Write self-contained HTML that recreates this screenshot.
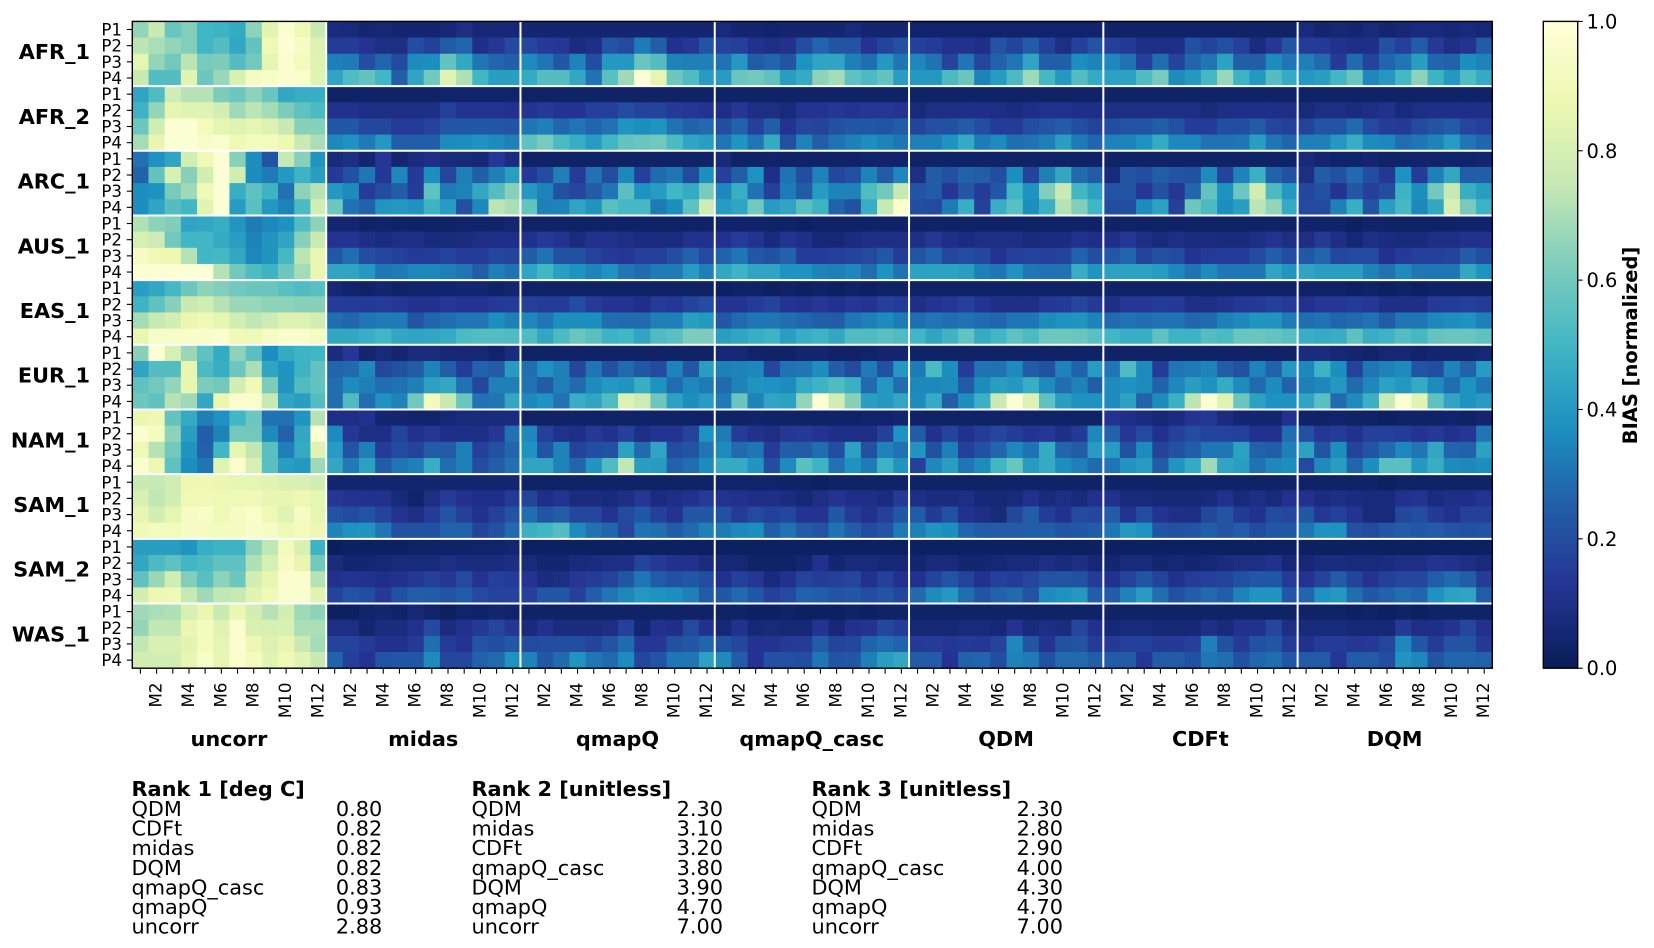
<!DOCTYPE html>
<html lang="en">
<head>
<meta charset="utf-8">
<title>BIAS heatmap</title>
<style>
html,body{margin:0;padding:0;background:#fff;width:1654px;height:948px;overflow:hidden}
svg{display:block;position:absolute;left:0;top:0}
text{font-family:"DejaVu Sans","Liberation Sans",sans-serif;fill:#000}
.b{font-weight:700}
.rk{font-size:20.83px}
</style>
</head>
<body>
<svg id="chart" xmlns="http://www.w3.org/2000/svg" width="1654" height="948" viewBox="0 0 1654 948">
<defs>
<linearGradient id="ylgnbu" x1="0" y1="1" x2="0" y2="0">
<stop offset="0" stop-color="#081d58"/><stop offset="0.125" stop-color="#253494"/><stop offset="0.25" stop-color="#225ea8"/><stop offset="0.375" stop-color="#1d91c0"/><stop offset="0.5" stop-color="#41b6c4"/><stop offset="0.625" stop-color="#7fcdbb"/><stop offset="0.75" stop-color="#c7e9b4"/><stop offset="0.875" stop-color="#edf8b1"/><stop offset="1" stop-color="#ffffd9"/>
</linearGradient>
</defs>
<g id="cells"></g>
<g id="grid"></g>
<g id="xaxis"></g>
<g id="yaxis"></g>
<g id="regionlabels"></g>
<g id="methodlabels"></g>
<rect x="132.3" y="21.4" width="1360" height="646.8" fill="none" stroke="#000" stroke-width="1.4"/>

<g>
<rect x="1543.3" y="21.4" width="34.4" height="646.8" fill="url(#ylgnbu)" stroke="#000" stroke-width="1.4"/>
<g id="cbticks"></g>
<text class="b" font-size="19.44" text-anchor="middle" transform="translate(1637,345.5) rotate(-90)">BIAS [normalized]</text>
</g>

<g>
<text class="rk b" x="131.5" y="796">Rank 1 [deg C]</text>
<text class="rk" x="131.5" y="816">QDM</text><text class="rk" x="382.3" y="816" text-anchor="end">0.80</text>
<text class="rk" x="131.5" y="835.5">CDFt</text><text class="rk" x="382.3" y="835.5" text-anchor="end">0.82</text>
<text class="rk" x="131.5" y="855">midas</text><text class="rk" x="382.3" y="855" text-anchor="end">0.82</text>
<text class="rk" x="131.5" y="875">DQM</text><text class="rk" x="382.3" y="875" text-anchor="end">0.82</text>
<text class="rk" x="131.5" y="894.5">qmapQ_casc</text><text class="rk" x="382.3" y="894.5" text-anchor="end">0.83</text>
<text class="rk" x="131.5" y="914">qmapQ</text><text class="rk" x="382.3" y="914" text-anchor="end">0.93</text>
<text class="rk" x="131.5" y="933.5">uncorr</text><text class="rk" x="382.3" y="933.5" text-anchor="end">2.88</text>
</g>
<g>
<text class="rk b" x="471.5" y="796">Rank 2 [unitless]</text>
<text class="rk" x="471.5" y="816">QDM</text><text class="rk" x="723" y="816" text-anchor="end">2.30</text>
<text class="rk" x="471.5" y="835.5">midas</text><text class="rk" x="723" y="835.5" text-anchor="end">3.10</text>
<text class="rk" x="471.5" y="855">CDFt</text><text class="rk" x="723" y="855" text-anchor="end">3.20</text>
<text class="rk" x="471.5" y="875">qmapQ_casc</text><text class="rk" x="723" y="875" text-anchor="end">3.80</text>
<text class="rk" x="471.5" y="894.5">DQM</text><text class="rk" x="723" y="894.5" text-anchor="end">3.90</text>
<text class="rk" x="471.5" y="914">qmapQ</text><text class="rk" x="723" y="914" text-anchor="end">4.70</text>
<text class="rk" x="471.5" y="933.5">uncorr</text><text class="rk" x="723" y="933.5" text-anchor="end">7.00</text>
</g>
<g>
<text class="rk b" x="811.5" y="796">Rank 3 [unitless]</text>
<text class="rk" x="811.5" y="816">QDM</text><text class="rk" x="1063" y="816" text-anchor="end">2.30</text>
<text class="rk" x="811.5" y="835.5">midas</text><text class="rk" x="1063" y="835.5" text-anchor="end">2.80</text>
<text class="rk" x="811.5" y="855">CDFt</text><text class="rk" x="1063" y="855" text-anchor="end">2.90</text>
<text class="rk" x="811.5" y="875">qmapQ_casc</text><text class="rk" x="1063" y="875" text-anchor="end">4.00</text>
<text class="rk" x="811.5" y="894.5">DQM</text><text class="rk" x="1063" y="894.5" text-anchor="end">4.30</text>
<text class="rk" x="811.5" y="914">qmapQ</text><text class="rk" x="1063" y="914" text-anchor="end">4.70</text>
<text class="rk" x="811.5" y="933.5">uncorr</text><text class="rk" x="1063" y="933.5" text-anchor="end">7.00</text>
</g>
</svg>
<script>
// Normalized BIAS, in hundredths (0-100). Rows: region x period, columns: M1..M12.
const regions=["AFR_1","AFR_2","ARC_1","AUS_1","EAS_1","EUR_1","NAM_1","SAM_1","SAM_2","WAS_1"];
const periods=["P1","P2","P3","P4"];
const months=["M1","M2","M3","M4","M5","M6","M7","M8","M9","M10","M11","M12"];
const methods=["uncorr","midas","qmapQ","qmapQ_casc","QDM","CDFt","DQM"];
const colorbarTicks=[0,0.2,0.4,0.6,0.8,1];
const uncorr=[
[66,76,58,63,50,49,46,65,84,97,89,76],[73,70,66,63,50,54,45,57,89,98,94,82],[85,66,60,73,61,62,54,60,85,97,91,83],[76,54,54,84,59,67,81,93,95,97,96,83],
[44,53,78,72,72,62,59,65,58,45,47,47],[49,66,85,83,83,79,68,73,69,62,56,52],[59,78,98,98,91,85,83,85,82,76,64,64],[69,86,98,98,95,97,89,92,91,88,76,70],
[30,38,44,79,89,98,64,37,22,75,64,39],[26,57,81,64,79,98,78,36,32,40,49,42],[37,38,61,68,90,98,47,56,49,30,65,72],[37,44,54,50,84,98,41,55,40,34,52,79],
[71,65,63,44,45,47,39,32,35,38,53,65],[80,77,60,50,50,46,42,34,39,44,64,76],[93,89,88,72,50,51,45,35,39,51,73,87],[98,98,98,98,98,72,60,53,49,59,69,87],
[42,45,51,59,65,63,60,58,58,55,53,55],[49,56,64,76,78,72,67,67,65,65,64,64],[69,75,79,87,89,85,79,74,77,82,82,78],[87,94,95,95,95,97,90,89,93,96,96,93],
[64,98,80,67,56,46,65,55,37,46,49,50],[44,54,54,86,52,47,59,70,44,39,49,57],[56,60,66,86,62,60,79,90,62,39,53,57],[59,56,72,68,45,87,96,96,75,44,42,54],
[87,88,57,46,33,38,50,59,30,30,39,72],[97,92,65,42,25,34,60,60,36,26,45,98],[89,72,60,39,26,50,85,74,55,33,46,83],[97,88,56,37,31,83,96,80,55,42,40,68],
[76,75,78,88,88,87,86,85,84,81,81,78],[81,74,78,89,90,89,89,90,86,86,88,85],[86,79,85,93,95,89,93,96,89,83,93,85],[90,91,91,94,93,92,92,95,94,89,91,88],
[42,42,42,39,47,49,49,65,74,91,81,49],[45,52,56,50,52,56,56,71,80,93,86,60],[56,67,78,63,55,65,59,79,86,97,97,72],[79,88,89,75,68,74,75,84,90,96,96,84],
[68,70,71,80,87,76,87,79,72,79,68,65],[66,74,74,87,92,83,97,81,80,81,70,70],[74,81,81,84,91,85,97,88,82,86,76,69],[79,79,79,86,95,86,97,92,84,89,84,76]
];
const midas=[
[8,7,5,6,5,5,5,6,9,6,6,6],[15,15,12,9,9,20,16,24,27,10,13,19],[33,32,20,27,19,36,37,57,45,31,27,25],[44,53,57,50,25,44,60,83,71,50,42,42],
[3,3,3,3,3,3,3,4,4,4,4,4],[11,11,9,9,9,9,10,16,12,12,12,11],[23,23,18,18,15,15,17,23,23,23,23,22],[35,38,32,40,25,25,25,36,37,38,36,33],
[7,9,5,13,5,8,10,7,7,6,13,8],[14,21,31,13,35,14,37,18,33,25,33,42],[40,36,15,20,25,15,56,32,34,45,54,64],[59,30,26,39,40,38,49,41,21,35,73,70],
[5,5,3,4,3,3,3,3,4,4,4,5],[12,12,10,8,9,10,7,7,8,9,10,10],[23,29,20,18,16,14,15,17,15,15,18,17],[44,44,40,31,32,35,35,33,31,25,33,30],
[6,4,3,5,3,4,4,4,5,5,3,5],[15,15,14,15,13,11,11,13,12,12,14,15],[29,27,31,32,32,22,27,29,31,31,37,33],[45,45,47,50,45,44,45,46,52,54,54,53],
[8,13,5,7,5,8,8,6,6,6,4,8],[27,28,35,18,21,24,34,25,15,26,24,41],[29,36,33,29,30,33,43,45,30,18,33,33],[29,53,29,38,34,60,91,76,58,30,31,45],
[9,9,11,5,5,4,4,6,7,7,7,8],[36,13,9,9,17,11,13,10,10,9,13,30],[41,22,33,15,19,17,24,24,33,16,21,27],[45,32,43,24,31,33,47,29,33,20,25,30],
[5,5,5,5,5,5,5,5,5,5,5,5],[13,12,11,11,7,4,9,15,11,10,10,14],[22,19,22,17,12,9,15,22,16,11,16,22],[34,38,39,31,21,21,21,26,26,17,21,28],
[1,2,2,2,2,3,3,3,3,4,4,5],[8,5,5,6,7,7,7,9,8,8,8,9],[11,12,11,10,11,13,16,13,19,12,16,15],[17,22,20,14,21,25,24,22,24,19,17,17],
[2,2,4,5,3,6,4,2,4,3,5,4],[9,9,5,8,8,11,19,8,11,14,18,13],[17,17,14,11,11,14,29,15,12,22,20,23],[26,16,12,22,23,23,36,18,18,26,28,38]
];
const qmapQ=[
[5,5,5,5,5,5,5,5,5,5,5,5],[18,14,13,8,10,22,19,32,25,11,13,22],[36,31,23,34,20,40,40,58,54,34,33,33],[46,54,54,45,30,55,68,98,85,59,53,41],
[3,3,3,3,3,3,3,3,3,3,3,3],[12,14,12,12,16,16,20,17,17,14,13,12],[31,33,27,31,27,30,39,37,39,30,26,28],[56,61,52,47,41,50,57,58,60,52,44,42],
[3,3,3,3,3,3,3,3,3,3,3,3],[14,20,33,15,30,20,35,16,28,31,19,37],[40,34,21,18,24,31,55,38,41,50,46,61],[57,33,34,44,39,55,51,51,32,37,56,77],
[3,3,3,3,3,3,3,3,3,3,3,3],[11,14,12,8,11,11,9,8,8,8,11,11],[24,30,21,21,17,14,13,16,16,20,26,19],[44,50,42,38,34,38,31,28,32,32,41,33],
[3,3,3,3,3,3,3,3,3,3,3,3],[16,15,15,20,15,12,12,10,15,13,17,20],[35,31,37,37,37,29,28,28,33,33,42,40],[53,45,52,58,55,49,50,44,53,55,62,62],
[3,3,3,3,3,3,3,3,3,3,3,3],[29,38,33,18,31,21,28,23,19,34,23,42],[30,24,33,28,36,40,39,47,38,29,35,32],[35,38,30,47,44,53,82,77,59,43,37,41],
[3,3,3,3,3,3,3,3,3,3,3,3],[35,16,11,10,14,11,16,10,12,12,17,38],[38,22,34,17,20,21,43,28,44,20,22,31],[44,44,34,27,39,53,74,42,41,26,29,36],
[3,3,3,3,3,3,3,3,3,3,3,3],[17,10,12,8,8,7,9,13,8,10,11,15],[29,22,25,18,18,12,19,23,16,12,23,23],[48,50,54,36,30,27,18,30,29,24,28,33],
[2,2,2,2,2,2,2,2,2,2,2,2],[7,5,5,7,8,9,10,17,14,11,11,8],[12,8,9,13,15,17,23,31,24,21,23,20],[16,23,23,16,25,31,35,40,38,37,33,24],
[3,3,3,3,3,3,3,3,3,3,3,3],[7,11,8,8,8,9,16,5,11,10,19,11],[19,20,20,20,17,22,28,13,13,21,23,27],[34,23,28,39,31,28,36,18,22,31,31,43]
];
const qmapQ_casc=[
[7,5,5,4,5,5,5,5,7,5,5,5],[17,16,11,9,11,20,27,22,22,12,17,21],[30,40,24,27,22,38,44,44,33,29,40,31],[41,58,60,56,42,46,65,69,56,52,57,42],
[3,3,3,3,3,3,3,3,3,3,3,3],[9,13,9,9,7,12,12,13,12,13,13,12],[20,26,16,25,12,18,17,21,23,23,22,24],[31,39,31,46,21,34,25,30,33,37,34,31],
[7,3,3,4,3,3,3,3,3,4,4,4],[16,25,38,10,30,20,34,18,21,34,24,35],[35,47,30,16,32,24,41,34,34,53,60,75],[41,44,60,41,44,55,49,26,21,47,75,96],
[4,4,4,3,3,2,3,3,3,3,3,3],[11,15,12,7,12,10,6,6,8,10,9,9],[26,31,23,21,26,15,15,16,17,19,23,15],[45,49,44,44,38,38,34,33,35,29,38,30],
[2,3,3,2,3,2,3,2,3,2,3,3],[12,12,15,17,12,11,13,11,13,12,16,15],[23,28,31,31,29,27,25,24,31,33,36,32],[42,44,47,49,42,47,49,45,53,53,55,53],
[6,6,4,3,3,5,5,3,3,4,5,5],[33,34,35,18,30,31,37,25,19,32,21,40],[28,34,39,38,36,46,49,53,48,28,40,29],[32,58,34,44,43,66,98,78,64,42,40,45],
[3,3,4,3,3,3,3,3,3,4,4,5],[32,15,11,9,13,14,12,10,10,9,16,38],[36,28,31,15,25,24,29,20,43,21,34,30],[46,46,39,20,36,55,49,30,38,32,49,39],
[4,4,4,4,3,3,2,3,3,3,3,3],[12,11,9,10,8,6,9,12,10,10,8,14],[21,15,19,16,18,12,12,23,15,11,16,23],[32,35,37,25,30,24,22,30,25,19,22,32],
[2,2,2,2,2,2,2,2,2,2,2,2],[6,6,3,3,3,5,11,5,7,7,6,6],[11,16,13,7,11,17,15,16,18,11,16,11],[23,28,23,16,19,26,25,22,23,20,22,18],
[3,3,2,2,3,2,2,2,3,2,3,3],[6,11,6,7,6,6,12,6,11,12,18,15],[21,18,12,12,14,15,24,17,18,26,29,26],[36,24,12,21,21,20,31,22,23,33,42,45]
];
const QDM=[
[4,4,4,4,4,4,4,4,4,4,4,4],[16,15,11,11,10,22,17,24,16,9,16,22],[35,30,17,31,18,26,31,44,25,25,37,34],[40,40,52,58,34,41,52,68,51,40,54,46],
[3,3,3,3,3,3,3,3,3,3,3,3],[7,9,9,10,10,9,8,10,11,11,10,10],[17,21,21,24,20,15,15,20,22,24,20,17],[33,33,38,46,32,36,29,30,33,42,32,27],
[3,3,3,3,3,3,3,3,3,3,3,3],[9,24,21,26,25,20,37,17,33,45,28,24],[22,24,13,23,15,23,50,38,63,76,50,43],[20,19,32,47,16,47,55,37,48,72,63,50],
[3,3,3,3,3,3,3,3,3,3,3,3],[10,13,10,8,9,9,9,7,8,8,11,10],[22,26,18,20,18,12,16,17,16,17,26,20],[43,43,43,42,33,31,38,31,30,30,47,39],
[3,3,3,3,3,3,3,3,3,3,3,3],[10,12,13,16,12,10,10,10,13,14,18,14],[29,31,29,30,28,27,31,31,36,38,39,34],[50,44,49,57,46,50,56,52,59,59,58,55],
[3,3,3,3,3,3,3,3,3,3,3,3],[32,52,37,15,30,30,36,24,21,34,26,41],[35,35,36,24,36,42,40,47,36,29,34,25],[36,46,25,37,48,76,98,82,56,42,38,38],
[3,3,3,3,3,3,3,3,3,3,3,3],[24,11,17,11,15,18,15,12,13,10,14,35],[39,21,33,16,21,27,35,30,46,27,24,41],[16,35,42,31,36,50,58,41,46,37,33,28],
[3,3,3,3,3,3,3,3,3,3,3,3],[10,8,8,9,6,6,7,11,7,9,7,11],[24,14,21,11,9,7,18,25,15,11,19,18],[33,39,37,27,24,24,24,25,25,22,23,24],
[2,2,2,2,2,2,2,2,2,2,2,2],[5,7,7,5,5,6,7,7,9,7,9,6],[11,17,22,17,11,16,15,18,22,22,21,15],[28,36,40,29,22,26,28,22,36,38,40,25],
[3,3,3,3,3,3,3,3,3,3,3,3],[6,6,6,7,7,6,12,7,9,8,18,11],[14,15,13,14,13,17,35,22,12,21,22,15],[24,24,12,26,27,20,34,32,21,28,28,25]
];
const CDFt=[
[3,3,3,3,3,3,3,3,3,3,3,3],[16,14,10,10,10,21,17,21,16,8,13,22],[35,30,16,29,17,27,31,43,25,25,36,31],[43,43,53,61,36,40,51,67,49,40,54,46],
[3,3,3,3,3,3,3,3,3,3,3,3],[9,9,9,9,9,9,7,9,10,10,10,9],[20,22,22,25,21,15,15,20,20,24,18,16],[34,34,38,46,35,35,30,30,31,42,31,27],
[3,3,3,3,3,3,3,3,3,3,3,3],[7,22,20,25,22,21,36,17,34,48,26,21],[22,22,13,21,13,27,57,38,59,78,52,40],[20,20,36,43,16,59,52,37,42,73,66,46],
[3,3,3,3,3,3,3,3,3,3,3,3],[10,13,9,7,9,8,8,7,7,9,12,9],[23,27,17,21,19,12,14,15,15,19,25,20],[43,43,43,41,35,30,36,31,31,31,44,39],
[3,3,3,3,3,3,3,3,3,3,3,3],[10,13,13,15,14,10,9,11,13,14,16,14],[28,30,29,30,30,27,28,33,35,39,39,32],[50,47,47,56,49,49,54,52,58,58,57,55],
[3,3,3,3,3,3,3,3,3,3,3,3],[31,53,36,15,31,32,34,25,21,34,26,40],[36,38,36,26,35,42,38,46,36,28,36,26],[36,43,26,36,48,73,98,83,58,43,38,38],
[12,10,8,6,8,12,13,8,5,5,5,11],[26,13,19,11,16,20,17,17,16,11,11,29],[41,21,36,17,21,25,31,31,43,26,25,33],[31,39,41,24,39,46,68,44,42,30,35,37],
[3,3,3,3,3,3,3,3,3,3,3,3],[11,7,7,6,6,6,7,11,7,9,7,11],[24,12,20,12,10,9,18,22,14,11,19,18],[31,40,38,22,21,22,25,22,25,19,23,23],
[2,2,2,2,2,2,2,2,2,2,2,2],[5,7,7,5,6,5,6,8,9,9,11,6],[11,17,22,17,11,15,16,17,21,23,23,15],[24,34,41,29,21,25,28,25,34,39,39,23],
[3,3,3,3,3,3,3,3,3,3,3,3],[6,7,7,6,6,6,10,7,11,11,18,9],[14,16,16,14,14,16,33,21,14,21,23,15],[24,24,13,24,24,21,31,29,21,27,29,23]
];
const DQM=[
[7,5,6,5,7,5,6,7,7,6,7,6],[15,14,11,10,10,21,16,24,14,9,12,24],[33,28,14,28,17,27,31,42,27,26,37,34],[40,42,50,58,35,40,51,65,49,40,53,46],
[3,3,3,3,3,3,3,3,3,3,3,3],[7,9,9,8,9,11,7,9,10,10,10,10],[17,22,22,28,19,15,14,19,22,24,18,16],[33,33,40,47,36,35,29,31,34,41,31,27],
[7,5,4,4,5,3,4,4,4,4,4,5],[9,24,21,28,20,13,38,15,33,45,25,25],[18,21,12,23,16,20,49,37,60,75,47,42],[19,19,33,47,22,42,51,35,45,80,61,49],
[4,4,4,2,4,3,3,3,3,3,4,4],[9,14,9,6,9,8,7,7,9,9,11,11],[23,27,18,19,19,11,14,16,16,17,24,20],[44,42,42,42,34,30,36,31,31,31,45,38],
[3,3,3,2,3,2,3,2,3,3,3,3],[11,13,13,15,13,10,10,10,14,15,16,15],[29,30,27,28,30,24,31,31,35,37,38,33],[47,46,47,56,47,49,54,51,57,58,58,56],
[8,8,6,5,4,6,6,4,5,5,5,6],[35,49,37,17,31,34,36,22,20,34,26,41],[33,35,40,28,35,43,40,46,36,29,38,31],[44,55,28,36,48,76,98,84,56,44,38,41],
[3,3,4,3,3,2,3,3,3,4,3,5],[21,13,15,11,16,16,15,12,14,11,13,31],[43,22,37,17,22,28,35,31,45,27,26,43],[19,36,42,27,37,55,55,40,47,36,35,37],
[3,3,3,3,3,2,3,3,3,3,3,3],[11,8,9,8,7,7,11,12,8,10,10,12],[23,13,16,12,7,7,18,20,14,11,16,16],[31,38,38,21,19,23,24,23,24,22,21,22],
[2,2,2,2,2,2,2,2,2,2,2,2],[6,8,8,7,7,8,9,9,12,11,9,7],[12,17,24,17,12,16,18,18,25,28,25,15],[27,38,40,29,23,26,29,27,38,43,44,25],
[3,3,3,2,3,2,3,2,3,3,3,3],[7,7,7,6,6,6,14,9,10,12,18,11],[11,15,15,13,14,18,35,23,15,22,22,14],[24,24,13,24,24,20,39,35,22,27,27,26]
];
const methodSeries=[uncorr,midas,qmapQ,qmapQ_casc,QDM,CDFt,DQM];

const NS="http://www.w3.org/2000/svg";
const plotLeft=132.3,plotRight=1492.3,plotTop=21.4,plotBottom=668.2;
const columnCount=methods.length*months.length;
const rowCount=regions.length*periods.length;
const cellW=(plotRight-plotLeft)/columnCount;
const cellH=(plotBottom-plotTop)/rowCount;
const xAxis=function(method,month){return plotLeft+(method*months.length+month)*cellW;};
const yAxis=function(region,period){return plotTop+(region*periods.length+period)*cellH;};
const cbarY=function(v){return plotBottom-(plotBottom-plotTop)*v;};
const palette=[[8,29,88],[37,52,148],[34,94,168],[29,145,192],[65,182,196],[127,205,187],[199,233,180],[237,248,177],[255,255,217]];
function colorOf(value){
  const t=Math.max(0,Math.min(1,value/100))*(palette.length-1);
  const i=Math.min(palette.length-2,Math.floor(t));
  const f=t-i;
  const a=palette[i],b=palette[i+1];
  return "rgb("+Math.round(a[0]+(b[0]-a[0])*f)+","+Math.round(a[1]+(b[1]-a[1])*f)+","+Math.round(a[2]+(b[2]-a[2])*f)+")";
}
function make(tag,attrs,parent,txt){
  const el=document.createElementNS(NS,tag);
  for(const k in attrs){el.setAttribute(k,attrs[k]);}
  if(txt!==undefined){el.textContent=txt;}
  parent.appendChild(el);
  return el;
}
const cellsG=document.getElementById("cells");
const gridG=document.getElementById("grid");
const xG=document.getElementById("xaxis");
const yG=document.getElementById("yaxis");
const regionG=document.getElementById("regionlabels");
const methodG=document.getElementById("methodlabels");
const cbG=document.getElementById("cbticks");

methodSeries.forEach(function(series,m){
  series.forEach(function(row,r){
    row.forEach(function(v,c){
      const x0=xAxis(m,c),x1=xAxis(m,c+1),y0=plotTop+r*cellH,y1=plotTop+(r+1)*cellH;
      const cell=make("rect",{x:x0.toFixed(2),y:y0.toFixed(2),width:(x1-x0+0.4).toFixed(2),height:(y1-y0+0.4).toFixed(2),fill:colorOf(v)},cellsG);
      
      
    });
  });
});
for(let m=1;m<methods.length;m++){
  const x=xAxis(m,0)-0.4;
  const vline=make("line",{x1:x,x2:x,y1:plotTop,y2:plotBottom,stroke:"#fff","stroke-width":2},gridG);
  
  
}
for(let r=1;r<regions.length;r++){
  const y=yAxis(r,0);
  const hline=make("line",{x1:plotLeft,x2:plotRight,y1:y,y2:y,stroke:"#fff","stroke-width":2},gridG);
  
  
}
methods.forEach(function(name,m){
  months.forEach(function(mon,c){
    const x=xAxis(m,c)+cellW/2;
    const tick=make("line",{x1:x,x2:x,y1:plotBottom,y2:plotBottom+5.5,stroke:"#000","stroke-width":1.1},xG);
    
    
    if((c+1)%2===0){
      const lab=make("text",{"font-size":16.67,"text-anchor":"end",transform:"translate("+(x+5).toFixed(2)+",682.5) rotate(-90)"},xG,mon);
      
      
    }
  });
  const mx=xAxis(m,months.length/2)-0.5;
  const mlab=make("text",{x:mx,y:746,"text-anchor":"middle","font-size":20.83,"class":"b"},methodG,name);
  
  
});
regions.forEach(function(name,r){
  periods.forEach(function(p,i){
    const y=yAxis(r,i)+cellH/2;
    const tick=make("line",{x1:plotLeft-5.5,x2:plotLeft,y1:y,y2:y,stroke:"#000","stroke-width":1.1},yG);
    
    
    const lab=make("text",{x:122,y:(y+6).toFixed(2),"text-anchor":"end","font-size":16.67},yG,p);
    
    
  });
  const cy=yAxis(r,periods.length/2);
  const rlab=make("text",{x:90,y:(cy+5.5).toFixed(2),"text-anchor":"end","font-size":20.83,"class":"b"},regionG,name);
  
  
});
colorbarTicks.forEach(function(v){
  const y=cbarY(v);
  const tick=make("line",{x1:1577.7,x2:1582.7,y1:y,y2:y,stroke:"#000","stroke-width":1.1},cbG);
  
  
  const lab=make("text",{x:1586.5,y:(y+7).toFixed(2),"font-size":19.44},cbG,v.toFixed(1));
  
  
});
</script>
</body>
</html>
